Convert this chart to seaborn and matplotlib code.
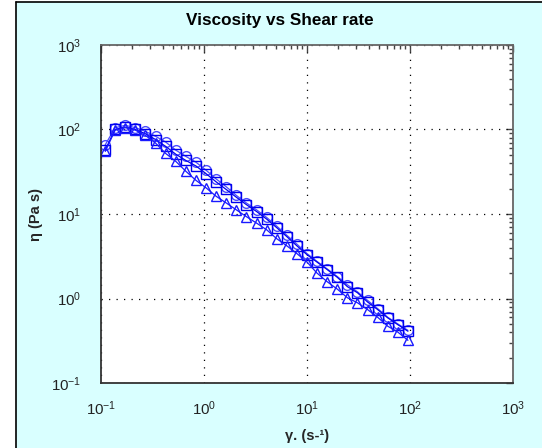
import matplotlib
matplotlib.use("Agg")
import matplotlib.pyplot as plt
from matplotlib.patches import Rectangle
from matplotlib.lines import Line2D
import seaborn as sns
import pandas as pd

shear_rate = [0.110, 0.137, 0.172, 0.216, 0.270, 0.339, 0.425, 0.532, 0.667, 0.836,
              1.047, 1.312, 1.644, 2.06, 2.58, 3.24, 4.06, 5.08, 6.37, 7.98,
              10.0, 12.5, 15.7, 19.7, 24.7, 30.9, 38.7, 48.5, 60.8, 76.2, 95.5]

visc_circle = [66, 105, 112, 105, 95, 83, 71, 57, 48, 41,
               33, 26, 21, 16.6, 13.5, 11.2, 9.1, 7.2, 5.6, 4.4,
               3.4, 2.75, 2.24, 1.82, 1.45, 1.2, 0.95, 0.76, 0.6, 0.5, 0.42]

visc_square = [57.5, 100, 107, 100, 89, 76, 63, 51, 43, 37,
               30, 24, 19.5, 15.8, 12.9, 10.7, 8.7, 6.9, 5.4, 4.2,
               3.3, 2.7, 2.2, 1.78, 1.38, 1.17, 0.91, 0.74, 0.59, 0.49, 0.41]

visc_triangle = [55, 98, 105, 98, 85, 69, 52, 42, 32, 25,
                 20.4, 16.2, 13.5, 11.2, 9.3, 7.8, 6.5, 5.1, 4.2, 3.4,
                 2.7, 2.0, 1.58, 1.29, 1.02, 0.89, 0.74, 0.6, 0.47, 0.40, 0.32]

title = "Viscosity vs Shear rate"
xlabel = "\u03b3. (s-\u00b9)"
ylabel = "\u03b7 (Pa s)"

sns.set_style("white")
plt.rcParams["font.family"] = ["Liberation Sans", "DejaVu Sans"]
plt.rcParams["mathtext.fontset"] = "custom"
plt.rcParams["mathtext.rm"] = "Liberation Sans"
plt.rcParams["mathtext.it"] = "Liberation Sans:italic"
plt.rcParams["mathtext.bf"] = "Liberation Sans:bold"

W, H = 542, 448
fig = plt.figure(figsize=(W / 100, H / 100), dpi=100, facecolor="white")

# window panel background with black top/left border
fig.patches.append(Rectangle((16 / W, 0), 1 - 16 / W, 1 - 2 / H, transform=fig.transFigure,
                             facecolor="#d9ffff", edgecolor="none", zorder=-5))
fig.lines.append(Line2D([16 / W, 16 / W], [0, 1 - 2 / H], transform=fig.transFigure,
                        color="black", lw=1.2, zorder=-4))
fig.lines.append(Line2D([16 / W, 1], [1 - 2 / H, 1 - 2 / H], transform=fig.transFigure,
                        color="black", lw=1.2, zorder=-4))

ax = fig.add_axes([101 / W, 1 - 383 / H, (513 - 101) / W, (383 - 45) / H])
ax.set_zorder(2)
ax.set_facecolor("white")

series = [
    (visc_circle, "o", "#4a4aff", 7.0),
    (visc_square, "s", "#0000ee", 6.6),
    (visc_triangle, "^", "#1a1aff", 7.4),
]
for vals, mk, col, ms in series:
    df = pd.DataFrame({"rate": shear_rate, "eta": vals})
    sns.lineplot(data=df, x="rate", y="eta", ax=ax, color=col, lw=0.9,
                 marker=mk, markersize=ms, markerfacecolor="none",
                 markeredgecolor=col, markeredgewidth=1.0, sort=False,
                 errorbar=None, legend=False)

ax.set_xscale("log")
ax.set_yscale("log")
ax.set_xlim(0.1, 1000)
ax.set_ylim(0.1, 1000)

ax.grid(True, which="major", color="black", linestyle=(0, (1, 5)), linewidth=0.9)

for side in ["left", "bottom"]:
    ax.spines[side].set_color("#333333")
    ax.spines[side].set_linewidth(1.3)
for side in ["top", "right"]:
    ax.spines[side].set_color("#666666")
    ax.spines[side].set_linewidth(1.3)

ax.tick_params(which="major", direction="inout", length=12, width=1.1, color="#333333",
               labelsize=10.8, labelcolor="#222222", top=False, right=False)
ax.tick_params(which="minor", direction="inout", length=6, width=1.0, color="#333333",
               top=False, right=False)
ax.tick_params(axis="x", which="major", pad=6)
ax.tick_params(axis="y", which="major", pad=8)

secx = ax.secondary_xaxis("top")
secx.tick_params(which="major", direction="in", length=5, width=1.0, color="#444444", labeltop=False)
secx.tick_params(which="minor", direction="in", length=3, width=1.0, color="#444444")
secx.set_xticklabels([])
secx.spines["top"].set_visible(False)
secy = ax.secondary_yaxis("right")
secy.tick_params(which="major", direction="in", length=5, width=1.0, color="#444444", labelright=False)
secy.tick_params(which="minor", direction="in", length=3, width=1.0, color="#444444")
secy.set_yticklabels([])
secy.spines["right"].set_visible(False)

ax.set_xlabel(xlabel, fontsize=10.5, fontweight="bold", labelpad=8)
ax.set_ylabel(ylabel, fontsize=10.5, fontweight="bold", labelpad=6)
fig.text(280 / W, 1 - 20 / H, title, ha="center", va="center", fontsize=12.3,
         fontweight="bold", color="black")

fig.savefig("out.png", dpi=100, facecolor=fig.get_facecolor())
